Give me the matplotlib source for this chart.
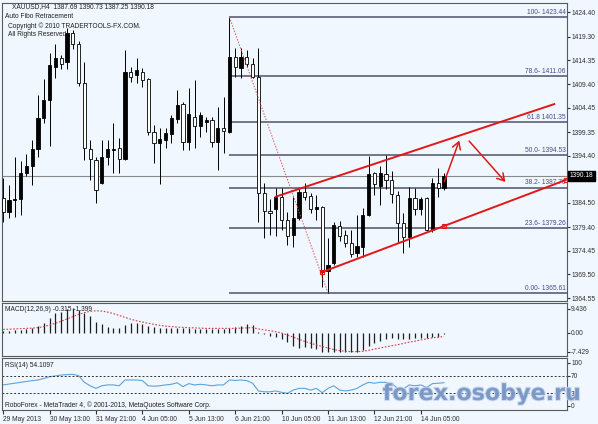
import matplotlib.pyplot as plt
import matplotlib.transforms as mtransforms
import matplotlib.patheffects as pe
import numpy as np

plt.rcParams['font.family'] = ['Liberation Sans', 'DejaVu Sans']

# XAUUSD H4 candles
opens = [1385.52, 1382.58, 1385.10, 1385.31, 1390.76, 1392.23, 1395.79, 1402.29, 1406.06, 1412.98,
         1414.86, 1414.02, 1420.10, 1417.80, 1409.62, 1395.79, 1393.48, 1388.66, 1394.11, 1395.58,
         1396.00, 1393.69, 1411.93, 1411.30, 1411.93, 1410.46, 1399.35, 1397.05, 1397.68, 1398.93,
         1402.08, 1405.22, 1397.26, 1402.50, 1400.61, 1401.45, 1401.87, 1397.26, 1400.19, 1399.35,
         1415.07, 1412.77, 1415.07, 1413.61, 1410.88, 1386.57, 1382.79, 1383.21, 1385.73, 1380.91,
         1377.76, 1381.33, 1386.78, 1385.94, 1383.21, 1383.63, 1370.22, 1371.90, 1379.65, 1377.76,
         1376.09, 1373.99, 1375.25, 1381.96, 1390.76, 1388.03, 1390.55, 1389.29, 1386.15, 1380.28,
         1377.34, 1385.52, 1383.21, 1385.52, 1378.81, 1388.66, 1387.69]
highs = [1389.71, 1388.24, 1394.11, 1393.27, 1394.74, 1397.68, 1407.11, 1410.46, 1415.91, 1417.80,
         1415.49, 1421.15, 1420.73, 1418.43, 1414.02, 1397.68, 1394.11, 1397.68, 1397.68, 1401.24,
         1398.10, 1416.54, 1412.98, 1414.86, 1412.77, 1410.67, 1400.82, 1400.19, 1400.19, 1402.92,
         1408.16, 1405.64, 1408.58, 1410.25, 1403.54, 1402.50, 1402.50, 1404.59, 1406.69, 1423.44,
         1416.96, 1416.96, 1416.54, 1414.86, 1416.96, 1388.66, 1385.31, 1387.62, 1387.62, 1382.58,
         1385.73, 1387.62, 1388.66, 1386.57, 1386.15, 1383.84, 1377.14, 1380.49, 1380.70, 1378.81,
         1378.81, 1381.96, 1383.42, 1394.32, 1390.97, 1392.23, 1394.53, 1391.18, 1386.99, 1382.38,
         1387.82, 1387.62, 1385.73, 1385.73, 1389.71, 1391.81, 1390.73]
lows = [1380.49, 1381.33, 1381.54, 1381.96, 1390.13, 1388.24, 1394.11, 1401.24, 1396.42, 1410.67,
        1412.56, 1412.56, 1416.75, 1408.99, 1393.48, 1389.29, 1384.47, 1388.45, 1392.44, 1390.76,
        1390.76, 1393.50, 1409.83, 1409.62, 1408.78, 1398.72, 1392.86, 1388.45, 1396.00, 1397.05,
        1401.24, 1395.58, 1395.58, 1396.00, 1398.30, 1399.35, 1396.21, 1391.39, 1394.95, 1399.14,
        1410.88, 1410.67, 1412.98, 1410.67, 1380.49, 1377.14, 1377.76, 1377.55, 1378.81, 1375.67,
        1375.25, 1380.91, 1385.10, 1382.38, 1380.91, 1366.86, 1365.61, 1371.48, 1376.51, 1375.25,
        1373.15, 1373.15, 1373.15, 1381.75, 1386.15, 1384.05, 1387.41, 1384.47, 1376.09, 1373.99,
        1375.25, 1381.96, 1381.96, 1378.60, 1378.39, 1385.73, 1387.25]
closes = [1382.58, 1385.10, 1385.31, 1390.76, 1392.23, 1395.79, 1402.29, 1406.06, 1413.40, 1414.86,
          1413.61, 1420.10, 1417.80, 1409.62, 1396.00, 1393.69, 1387.20, 1394.11, 1395.79, 1395.79,
          1393.69, 1411.93, 1410.88, 1412.35, 1410.25, 1399.35, 1397.05, 1397.89, 1399.14, 1402.29,
          1405.01, 1397.26, 1403.13, 1400.61, 1402.92, 1401.87, 1397.26, 1400.19, 1399.56, 1415.07,
          1412.98, 1415.07, 1413.61, 1410.88, 1386.57, 1382.79, 1382.38, 1385.73, 1380.91, 1377.55,
          1381.33, 1386.78, 1385.73, 1383.21, 1383.63, 1370.01, 1371.48, 1379.86, 1377.55, 1376.09,
          1373.78, 1375.46, 1381.96, 1390.55, 1388.45, 1390.76, 1389.29, 1386.36, 1380.28, 1377.34,
          1385.52, 1383.21, 1385.31, 1378.81, 1388.66, 1387.62, 1390.18]

macd_hist = [0.8, 0.8, 1.0, 1.3, 1.6, 1.8, 2.9, 3.8, 6.0, 7.7,
             8.4, 9.4, 9.9, 9.0, 7.7, 6.8, 4.2, 3.4, 2.5, 2.1,
             1.8, 3.1, 3.8, 3.8, 3.4, 2.9, 2.5, 2.1, 1.8, 1.8,
             1.8, 1.8, 1.8, 1.6, 1.6, 1.6, 1.6, 1.6, 1.6, 1.8,
             2.2, 2.7, 3.4, 3.1, 0.5, -0.5, -1.0, -1.4, -2.4, -3.5,
             -5.0, -6.0, -5.4, -6.0, -6.4, -7.3, -7.6, -7.6, -7.6, -7.6,
             -7.6, -7.3, -6.7, -5.0, -4.1, -3.1, -2.4, -2.1, -2.4, -2.4,
             -2.4, -2.1, -2.1, -2.1, -1.4, -1.4, -0.3]
macd_signal = [1.4, 1.5, 1.6, 1.7, 1.8, 1.9, 2.1, 2.5, 3.1, 3.8,
               4.6, 5.5, 6.4, 7.3, 8.0, 8.5, 8.7, 8.6, 8.2, 7.6,
               6.9, 6.1, 5.4, 4.8, 4.3, 3.8, 3.4, 3.0, 2.7, 2.5,
               2.3, 2.2, 2.1, 2.0, 1.9, 1.8, 1.8, 1.8, 1.8, 1.8,
               1.8, 1.9, 2.0, 2.1, 1.6, 1.2, 0.9, 0.5, 0.0, -0.8,
               -1.6, -2.5, -3.3, -4.0, -4.7, -5.3, -5.9, -6.5, -6.9, -7.2,
               -7.3, -7.3, -7.2, -6.8, -6.3, -5.9, -5.4, -5.0, -4.6, -4.1,
               -3.6, -3.2, -2.7, -2.3, -1.9, -1.6, -1.4]
rsi = [49, 51, 53, 55, 57, 59, 60.5, 64, 68, 70,
       72, 73, 73.6, 70.6, 55, 47, 41, 47, 49, 49,
       47, 60.5, 60.5, 60.5, 59, 47, 46, 47, 49, 50.5,
       54, 45, 52, 49, 50.5, 49, 47, 49, 49, 60.5,
       59.5, 60.5, 59, 53, 35, 33, 33, 35, 31.8, 29.5,
       37, 41, 41, 37, 41, 31, 41, 47, 37, 35,
       37, 41, 49, 55, 53, 55, 55, 52, 41, 39.5,
       49, 47, 49, 43, 52, 53, 54.11]

# Auto Fibo retracement
fib_start = 39
fib_end = 56
fib_labels = ['100- 1423.44', '78.6- 1411.06', '61.8 1401.35', '50.0- 1394.53',
              '38.2- 1387.70', '23.6- 1379.26', '0.00- 1365.61']
fib_prices = [1423.44, 1411.06, 1401.35, 1394.53, 1387.70, 1379.26, 1365.61]

# hand drawn channel and arrows
upper_x = [47, 95]
upper_y = [1385.8, 1405.2]
lower_x = [55, 76, 97]
lower_y = [1370.0, 1379.65, 1389.3]
arrow_up = [(75.9, 1388.45), (78.8, 1398.1)]
arrow_down = [(80.0, 1397.9), (86.9, 1388.45)]

price_ticks = [1424.40, 1419.30, 1414.35, 1409.40, 1404.45, 1399.35, 1394.40,
               1389.45, 1384.50, 1379.40, 1374.45, 1369.50, 1364.55]
last_price = 1390.18
time_bars = [0, 8, 16, 24, 32, 40, 48, 56, 64, 72]
time_labels = ['29 May 2013', '30 May 13:00', '31 May 21:00', '4 Jun 05:00', '5 Jun 13:00',
               '6 Jun 21:00', '10 Jun 05:00', '11 Jun 13:00', '12 Jun 21:00', '14 Jun 05:00']

bg = '#f0f7ff'
fs = 4.8
W, H = 598, 424

fig = plt.figure(figsize=(W / 100, H / 100), dpi=100, facecolor=bg)


def panel(top, bottom):
    a = fig.add_axes([2 / W, 1 - bottom / H, 565 / W, (bottom - top) / H])
    a.set_facecolor(bg)
    for s in a.spines.values():
        s.set_color('#5a5a5a')
        s.set_linewidth(0.8)
    a.yaxis.tick_right()
    a.tick_params(axis='y', labelsize=fs, length=2, pad=1, colors='#303030')
    a.set_xlim(-0.2, 97.2)
    a.set_xticks([])
    return a


ax = panel(3, 301)
axm = panel(303, 356)
axr = panel(358, 410)

bars = np.arange(len(opens))
o = np.array(opens)
c = np.array(closes)

# candles: black = up, white = down
ax.vlines(bars, lows, highs, color='black', lw=0.7, zorder=2)
bull = c >= o
body_lo = np.minimum(o, c)
body_h = np.maximum(np.abs(c - o), 0.15)
ax.bar(bars, body_h, bottom=body_lo, width=0.55,
       color=np.where(bull, 'black', 'white'), edgecolor='black', lw=0.6, zorder=3)

ax.set_ylim(1363.93, 1426.39)
ax.set_yticks(price_ticks)
ax.set_yticklabels([f'{v:.2f}' for v in price_ticks])

# current price line
ax.axhline(last_price, color='#8a8a8a', lw=0.8, zorder=1)

# fibo levels
ax.hlines(fib_prices, fib_start, 97.2, color='#50506e', lw=1.1, zorder=1)
blend = mtransforms.blended_transform_factory(ax.transAxes, ax.transData)
for lab, p in zip(fib_labels, fib_prices):
    ax.text(0.998, p + 0.25, lab, transform=blend, ha='right', va='bottom',
            fontsize=fs, color='#4a4a90')
ax.plot([fib_start, fib_end], [fib_prices[0], fib_prices[-1]], color='#d05a5a',
        ls=(0, (1.5, 1.5)), lw=0.7, zorder=4)

# channel
ax.plot(upper_x, upper_y, color='#e01818', lw=1.4, zorder=5)
ax.plot(lower_x, lower_y, color='#e01818', lw=1.4, zorder=5)
ax.plot(lower_x, lower_y, ls='none', marker='s', ms=2.8, mfc='none', mec='#e01818',
        mew=0.8, zorder=6)
for a0, a1 in (arrow_up, arrow_down):
    ax.annotate('', xy=a1, xytext=a0,
                arrowprops=dict(arrowstyle='->,head_length=0.5,head_width=0.3',
                                color='#e01818', lw=1.1), zorder=6)

# last price box
ax.text(1.004, last_price, f'{last_price:.2f}', transform=blend, ha='left', va='center',
        fontsize=fs, color='white', zorder=10, clip_on=False,
        bbox=dict(boxstyle='square,pad=0.25', fc='black', ec='black'))

# MACD
axm.vlines(bars, 0, macd_hist, color='#1e1e1e', lw=0.9)
axm.plot(bars, macd_signal, color='#d04040', ls=(0, (1.5, 1.5)), lw=0.8)
axm.set_ylim(-9.02, 11.76)
axm.set_yticks([9.436, 0.0, -7.429])
axm.set_yticklabels(['9.436', '0.00', '-7.429'])
axm.text(0.006, 0.88, 'MACD(12,26,9) -0.315 -1.399', transform=axm.transAxes,
         fontsize=fs, color='#202020', va='center')

# RSI
axr.plot(bars, rsi, color='#5aa4dc', lw=0.8)
for lvl in (70, 30):
    axr.axhline(lvl, color='#303030', ls=(0, (2, 2)), lw=0.7)
axr.set_ylim(-9.3, 111.6)
axr.set_yticks([100, 70, 30, 0])
axr.set_yticklabels(['100', '70', '30', '0'])
axr.text(0.006, 0.86, 'RSI(14) 54.1097', transform=axr.transAxes, fontsize=fs,
         color='#202020', va='center')
axr.text(0.006, 0.1, 'RoboForex - MetaTrader 4, \u00a9 2001-2013, MetaQuotes Software Corp.',
         transform=axr.transAxes, fontsize=fs, color='#202020', va='center')
axr.set_xticks(time_bars)
axr.set_xticklabels(time_labels, ha='left')
axr.tick_params(axis='x', labelsize=fs, length=3, pad=1.5, colors='#303030')

# header texts
fig.text(12 / W, 1 - 7 / H, 'XAUUSD,H4  1387.69 1390.73 1387.25 1390.18', fontsize=fs,
         color='#202020', va='center')
fig.text(5 / W, 1 - 17 / H, 'Auto Fibo Retracement', fontsize=fs, color='#202020', va='center')
fig.text(8 / W, 1 - 26 / H, 'Copyright \u00a9 2010 TRADERTOOLS-FX.COM.', fontsize=fs,
         color='#202020', va='center')
fig.text(8 / W, 1 - 34 / H, 'All Rights Reserved', fontsize=fs, color='#202020', va='center')

# watermark
fig.text(482 / W, 1 - 394 / H, 'forex.osobye.ru', fontsize=16, fontweight='bold',
         family='DejaVu Sans', color='#7895c4', alpha=0.85, ha='center', va='center',
         path_effects=[pe.withStroke(linewidth=1.5, foreground='#c8d8ee')], zorder=20)

fig.savefig('out.png', dpi=100, facecolor=bg)
